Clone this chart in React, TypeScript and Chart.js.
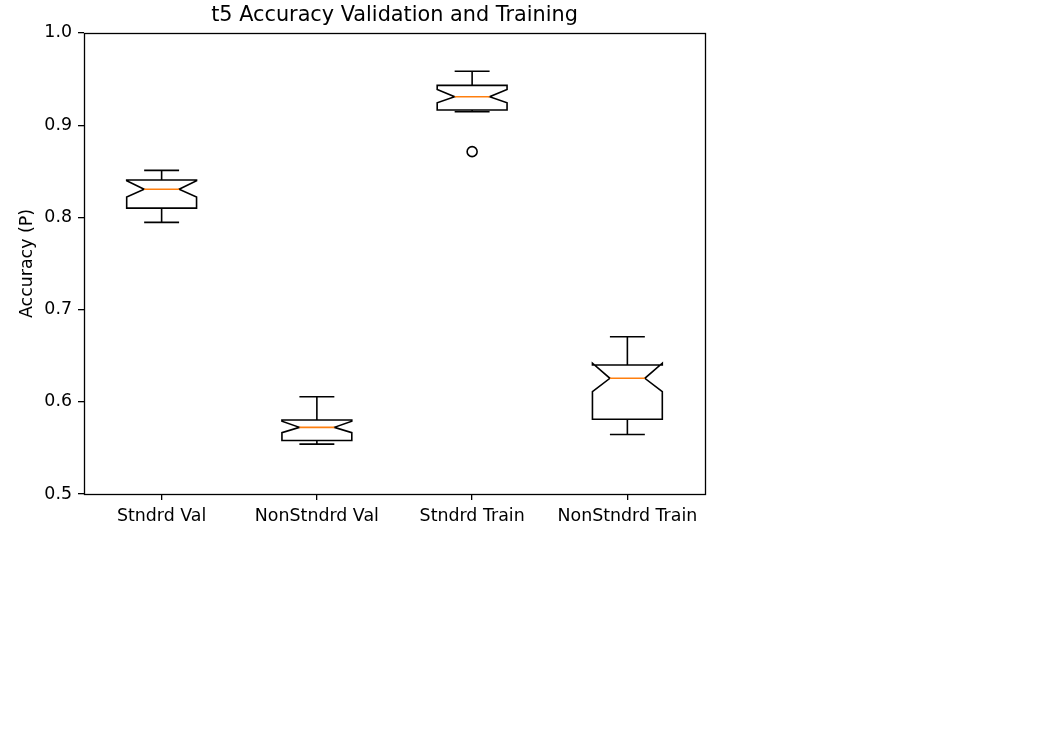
import React, { useEffect, useRef } from "react";
import { Chart, registerables } from "chart.js";

Chart.register(...registerables);

const categories = ["Stndrd Val", "NonStndrd Val", "Stndrd Train", "NonStndrd Train"];
const whiskerHigh = [0.851, 0.6055, 0.9585, 0.6705];
const q3Values = [0.8405, 0.5802, 0.9432, 0.6399];
const notchHigh = [0.8398, 0.579, 0.9387, 0.6418];
const medians = [0.8305, 0.5723, 0.9309, 0.6255];
const notchLow = [0.8222, 0.5665, 0.9242, 0.611];
const q1Values = [0.81, 0.558, 0.9165, 0.581];
const whiskerLow = [0.7946, 0.5541, 0.9146, 0.5646];
const outliers = [null, null, 0.8713, null];
const yTicks = [0.5, 0.6, 0.7, 0.8, 0.9, 1.0];

const FONT = "'DejaVu Sans', sans-serif";

const boxPlugin = {
  id: "notchedBoxes",
  beforeDatasetsDraw(chart: any) {
    const ctx = chart.ctx;
    const xs = chart.scales.x;
    const ys = chart.scales.y;
    const unit = xs.getPixelForValue(1) - xs.getPixelForValue(0);
    const hw = unit * 0.225;
    ctx.save();
    ctx.lineWidth = 1.6;
    ctx.lineJoin = "miter";
    ctx.lineCap = "butt";
    for (let i = 0; i < categories.length; i++) {
      const x = xs.getPixelForValue(i);
      const left = x - hw;
      const right = x + hw;
      const nl = x - hw * 0.5;
      const nr = x + hw * 0.5;
      const yq1 = ys.getPixelForValue(q1Values[i]);
      const yq3 = ys.getPixelForValue(q3Values[i]);
      const ymed = ys.getPixelForValue(medians[i]);
      const ylo = ys.getPixelForValue(notchLow[i]);
      const yhi = ys.getPixelForValue(notchHigh[i]);
      const ywl = ys.getPixelForValue(whiskerLow[i]);
      const ywh = ys.getPixelForValue(whiskerHigh[i]);
      ctx.strokeStyle = "#000000";
      ctx.beginPath();
      ctx.moveTo(x, yq1);
      ctx.lineTo(x, ywl);
      ctx.moveTo(x, yq3);
      ctx.lineTo(x, ywh);
      ctx.stroke();
      ctx.beginPath();
      ctx.moveTo(x - hw * 0.5, ywl);
      ctx.lineTo(x + hw * 0.5, ywl);
      ctx.moveTo(x - hw * 0.5, ywh);
      ctx.lineTo(x + hw * 0.5, ywh);
      ctx.stroke();
      ctx.beginPath();
      ctx.moveTo(left, yq1);
      ctx.lineTo(right, yq1);
      ctx.lineTo(right, ylo);
      ctx.lineTo(nr, ymed);
      ctx.lineTo(right, yhi);
      ctx.lineTo(right, yq3);
      ctx.lineTo(left, yq3);
      ctx.lineTo(left, yhi);
      ctx.lineTo(nl, ymed);
      ctx.lineTo(left, ylo);
      ctx.closePath();
      ctx.stroke();
      ctx.strokeStyle = "#ff7f0e";
      ctx.beginPath();
      ctx.moveTo(nl, ymed);
      ctx.lineTo(nr, ymed);
      ctx.stroke();
    }
    ctx.restore();
  },
  afterDraw(chart: any) {
    const ctx = chart.ctx;
    const a = chart.chartArea;
    ctx.save();
    ctx.strokeStyle = "#000000";
    ctx.lineWidth = 1.3;
    ctx.strokeRect(Math.round(a.left) + 0.5, Math.round(a.top) + 0.5, Math.round(a.right - a.left), Math.round(a.bottom - a.top));
    ctx.restore();
  },
};

export default function App() {
  const ref = useRef<HTMLCanvasElement | null>(null);
  useEffect(() => {
    if (!ref.current) return;
    const chart = new Chart(ref.current, {
      type: "line",
      data: {
        labels: categories,
        datasets: [
          {
            label: "fliers",
            data: outliers as any,
            showLine: false,
            pointRadius: 5,
            pointHoverRadius: 5,
            pointBorderColor: "#000000",
            pointBackgroundColor: "rgba(0,0,0,0)",
            pointBorderWidth: 1.6,
          },
        ],
      },
      options: {
        animation: false,
        responsive: false,
        devicePixelRatio: 1,
        layout: { padding: { top: 0, left: 0, right: 336, bottom: 213 } },
        plugins: {
          legend: { display: false },
          tooltip: { enabled: false },
          title: {
            display: true,
            text: "t5 Accuracy Validation and Training",
            fullSize: false,
            color: "#000000",
            font: { family: FONT, size: 20.8, weight: "normal" },
            padding: { top: 3.5, bottom: 4.5 },
          },
        },
        scales: {
          x: {
            type: "category",
            offset: true,
            grid: {
              display: true,
              offset: false,
              drawOnChartArea: false,
              drawTicks: true,
              tickLength: 6,
              lineWidth: 1.3,
              color: "#000000",
            },
            border: { display: false },
            ticks: {
              color: "#000000",
              padding: 6,
              maxRotation: 0,
              autoSkip: false,
              font: { family: FONT, size: 17.4 },
            },
            afterFit(scale: any) {
              scale.height = 40;
            },
          },
          y: {
            type: "linear",
            min: 0.5,
            max: 1.0,
            afterBuildTicks(scale: any) {
              scale.ticks = yTicks.map((v) => ({ value: v }));
            },
            grid: {
              display: true,
              drawOnChartArea: false,
              drawTicks: true,
              tickLength: 6,
              lineWidth: 1.3,
              color: "#000000",
            },
            border: { display: false },
            ticks: {
              color: "#000000",
              padding: 6,
              font: { family: FONT, size: 17.4 },
              callback: (v: any) => Number(v).toFixed(1),
            },
            title: {
              display: true,
              text: "Accuracy (P)",
              color: "#000000",
              font: { family: FONT, size: 17.4 },
              padding: { top: 17, bottom: 0 },
            },
            afterFit(scale: any) {
              scale.width = 84;
            },
          },
        },
      },
      plugins: [boxPlugin],
    } as any);
    return () => chart.destroy();
  }, []);
  return (
    <div style={{ position: "absolute", left: 0, top: 0, width: 1041, height: 747, background: "#ffffff" }}>
      <canvas ref={ref} width={1041} height={747} style={{ display: "block" }} />
    </div>
  );
}
